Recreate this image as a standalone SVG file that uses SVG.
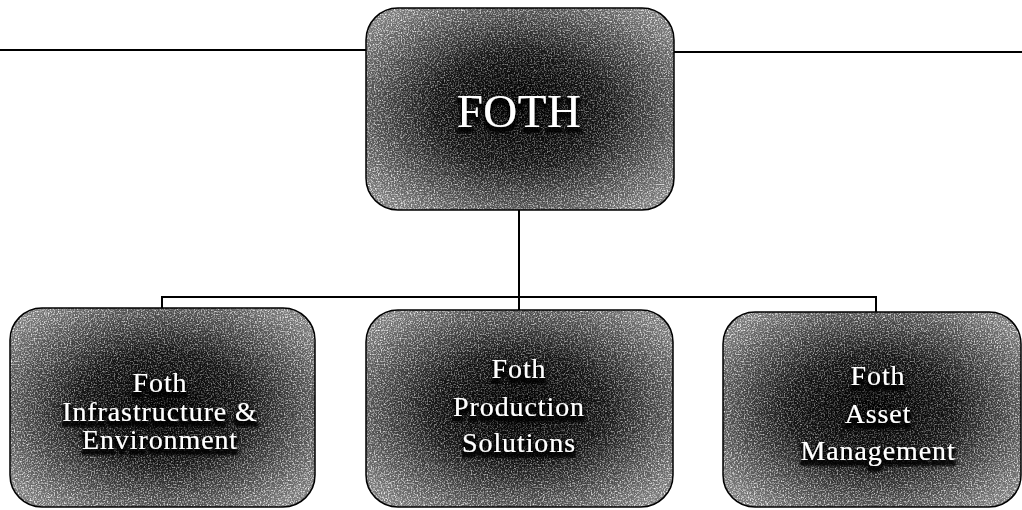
<svg xmlns="http://www.w3.org/2000/svg" width="1022" height="510" viewBox="0 0 1022 510">
<defs>
<radialGradient id="g" cx="50%" cy="50%" r="62%">
<stop offset="0" stop-color="#000"/>
<stop offset="0.45" stop-color="#141414"/>
<stop offset="1" stop-color="#7a7a7a"/>
</radialGradient>
<radialGradient id="mg" cx="50%" cy="50%" r="65%">
<stop offset="0" stop-color="#fff" stop-opacity="0.35"/>
<stop offset="0.5" stop-color="#fff" stop-opacity="0.6"/>
<stop offset="1" stop-color="#fff" stop-opacity="1"/>
</radialGradient>
<mask id="edge" maskContentUnits="objectBoundingBox">
<rect x="0" y="0" width="1" height="1" fill="url(#mg)"/>
</mask>
<filter id="noise" x="0" y="0" width="100%" height="100%">
<feTurbulence type="fractalNoise" baseFrequency="0.7" numOctaves="2" seed="7" result="t"/>
<feColorMatrix in="t" type="matrix" values="0 0 0 0 1  0 0 0 0 1  0 0 0 0 1  0 0 0 2.6 -1.15" result="w"/>
<feComposite in="w" in2="SourceAlpha" operator="in"/>
</filter>
<filter id="ghost" x="-20%" y="-40%" width="140%" height="200%">
<feMorphology in="SourceAlpha" operator="dilate" radius="1.8" result="d"/>
<feOffset in="d" dy="4" result="o"/>
<feGaussianBlur in="o" stdDeviation="1.2" result="b"/>
<feFlood flood-color="#000" flood-opacity="0.85"/>
<feComposite in2="b" operator="in" result="s"/>
<feMerge><feMergeNode in="s"/><feMergeNode in="SourceGraphic"/></feMerge>
</filter>
</defs>
<style>
.box{fill:url(#g)}
.spk{fill:#fff;filter:url(#noise);mask:url(#edge)}
.rim{fill:none;stroke:#000;stroke-width:1.5}
.lbl{fill:#fff;font-family:"Liberation Serif","Times New Roman",serif;text-anchor:middle;filter:url(#ghost)}
.sub{font-size:28px;letter-spacing:0.9px}
.top{font-size:47px;letter-spacing:0.5px}
.conn{stroke:#000;stroke-width:2;fill:none}
</style>
<g id="connectors">
<line class="conn" x1="0" y1="50" x2="367" y2="50"/>
<line class="conn" x1="673" y1="52" x2="1022" y2="52"/>
<line class="conn" x1="519" y1="210" x2="519" y2="311"/>
<polyline class="conn" points="162,309 162,297 876,297 876,313"/>
</g>
<g id="foth">
<rect class="box" x="366" y="8" width="308" height="202" rx="32"/>
<rect class="spk" x="366" y="8" width="308" height="202" rx="32"/>
<rect class="rim" x="366" y="8" width="308" height="202" rx="32"/>
<text class="lbl top" x="519" y="127">FOTH</text>
</g>
<g id="infrastructure">
<rect class="box" x="10" y="308" width="305" height="199" rx="32"/>
<rect class="spk" x="10" y="308" width="305" height="199" rx="32"/>
<rect class="rim" x="10" y="308" width="305" height="199" rx="32"/>
<text class="lbl sub" x="160"><tspan x="160" y="392">Foth</tspan><tspan x="160" y="421">Infrastructure &amp;</tspan><tspan x="160" y="449">Environment</tspan></text>
</g>
<g id="production">
<rect class="box" x="366" y="310" width="307" height="197" rx="32"/>
<rect class="spk" x="366" y="310" width="307" height="197" rx="32"/>
<rect class="rim" x="366" y="310" width="307" height="197" rx="32"/>
<text class="lbl sub" x="519"><tspan x="519" y="378">Foth</tspan><tspan x="519" y="416">Production</tspan><tspan x="519" y="452">Solutions</tspan></text>
</g>
<g id="asset">
<rect class="box" x="723" y="312" width="298" height="195" rx="32"/>
<rect class="spk" x="723" y="312" width="298" height="195" rx="32"/>
<rect class="rim" x="723" y="312" width="298" height="195" rx="32"/>
<text class="lbl sub" x="878"><tspan x="878" y="385">Foth</tspan><tspan x="878" y="423">Asset</tspan><tspan x="878" y="460">Management</tspan></text>
</g>
</svg>
